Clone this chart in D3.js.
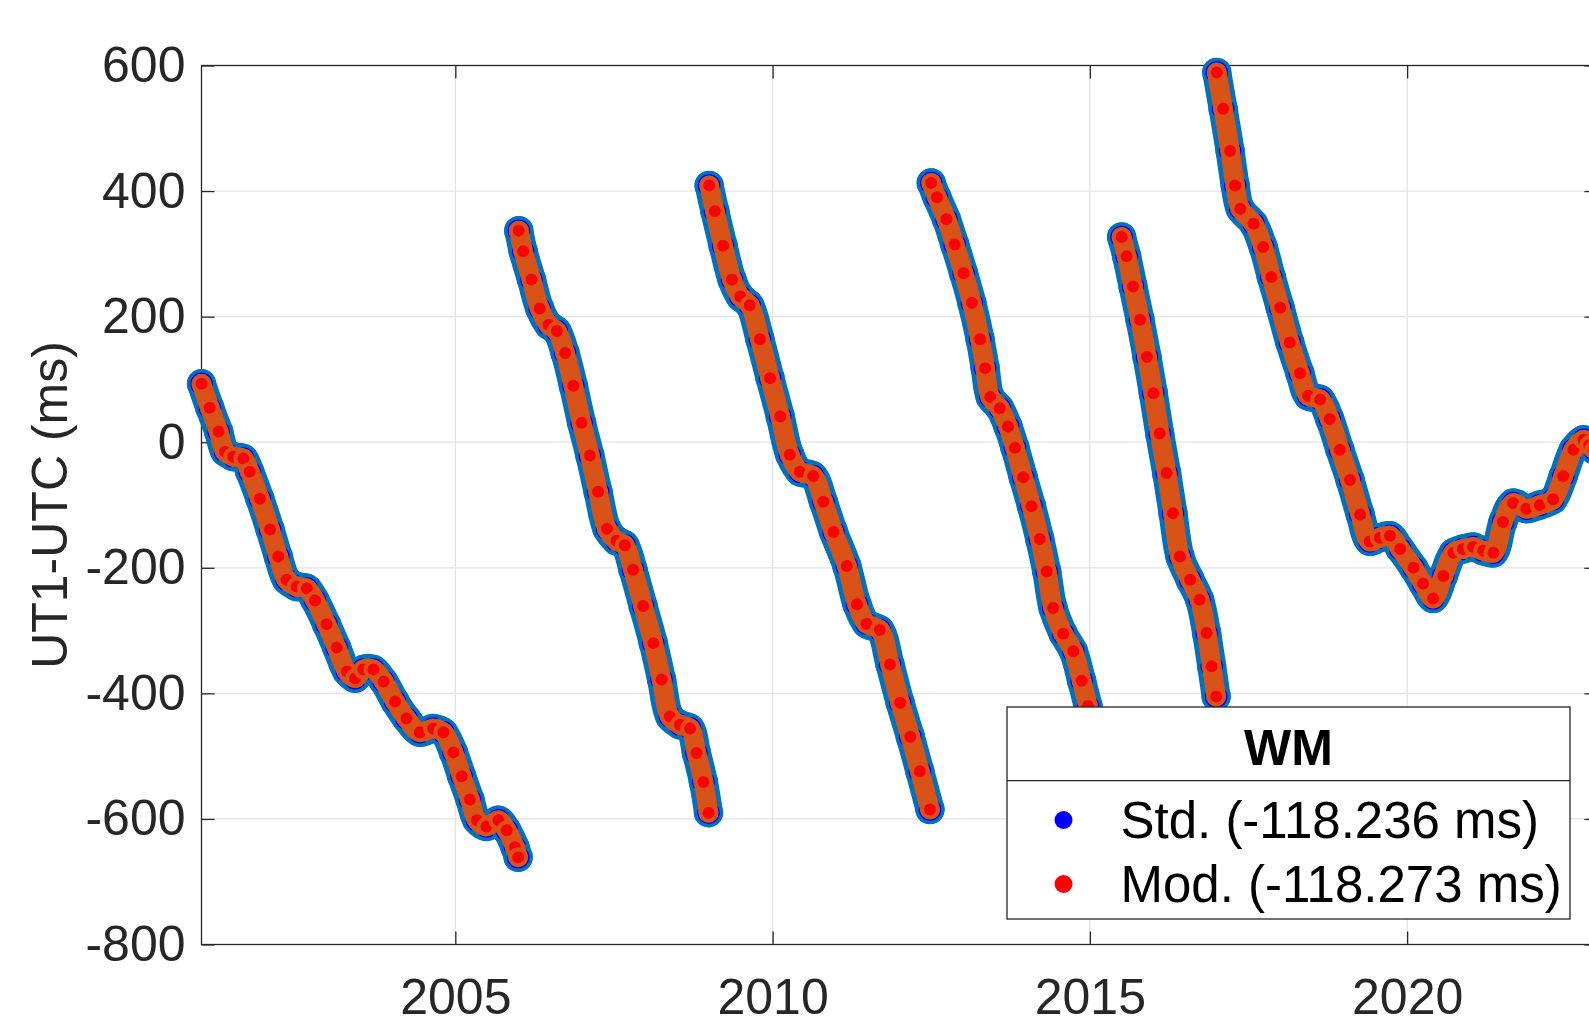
<!DOCTYPE html>
<html>
<head>
<meta charset="utf-8">
<script src="https://cdn.jsdelivr.net/npm/d3@7"></script>
<style>
  html, body { margin: 0; padding: 0; background: #fff; }
  svg { display: block; font-family: "Liberation Sans", Arial, Helvetica, sans-serif; }
</style>
</head>
<body>
<script>
// UT1-UTC, one pair of arrays per leap-second segment (years, ms)
const seg1Years = [2001.0, 2001.13, 2001.27, 2001.37, 2001.50, 2001.66, 2001.76, 2001.92, 2002.08, 2002.21, 2002.34, 2002.50, 2002.66, 2002.79, 2002.97, 2003.13, 2003.29, 2003.42, 2003.55, 2003.71, 2003.87, 2004.05, 2004.23, 2004.44, 2004.65, 2004.81, 2004.97, 2005.10, 2005.23, 2005.34, 2005.49, 2005.68, 2005.81, 2005.94, 2005.99]
const seg1Ms = [93, 55, 17, -15, -23, -26, -47, -90, -139, -182, -219, -230, -233, -252, -290, -327, -365, -376, -362, -362, -381, -413, -440, -462, -456, -462, -494, -532, -569, -602, -612, -602, -618, -645, -661]

const seg2Years = [2006.0, 2006.07, 2006.20, 2006.33, 2006.47, 2006.60, 2006.73, 2006.86, 2006.99, 2007.12, 2007.25, 2007.39, 2007.54, 2007.67, 2007.80, 2007.96, 2008.12, 2008.25, 2008.38, 2008.54, 2008.70, 2008.80, 2008.91, 2008.99]
const seg2Ms = [337, 304, 259, 213, 187, 177, 142, 90, 31, -21, -79, -138, -157, -164, -203, -261, -320, -378, -437, -450, -456, -495, -541, -590]

const seg3Years = [2009.0, 2009.09, 2009.22, 2009.36, 2009.49, 2009.64, 2009.80, 2009.96, 2010.12, 2010.27, 2010.43, 2010.64, 2010.80, 2010.96, 2011.17, 2011.33, 2011.48, 2011.69, 2011.85, 2012.01, 2012.17, 2012.32, 2012.48]
const seg3Ms = [409, 368, 313, 259, 232, 218, 164, 102, 41, -20, -47, -54, -95, -143, -197, -258, -289, -299, -354, -415, -469, -524, -585]

const seg4Years = [2012.5, 2012.59, 2012.74, 2012.87, 2013.01, 2013.14, 2013.27, 2013.35, 2013.43, 2013.58, 2013.71, 2013.82, 2013.95, 2014.08, 2014.21, 2014.32, 2014.42, 2014.58, 2014.74, 2014.87, 2014.97, 2015.15, 2015.33, 2015.49]
const seg4Ms = [413, 390, 355, 315, 269, 222, 164, 118, 72, 54, 25, -9, -56, -102, -154, -206, -264, -305, -333, -380, -420, -500, -600, -688]

const seg5Years = [2015.5, 2015.58, 2015.68, 2015.79, 2015.90, 2016.00, 2016.10, 2016.21, 2016.31, 2016.42, 2016.58, 2016.73, 2016.84, 2016.92, 2016.99]
const seg5Ms = [327, 296, 248, 195, 136, 78, 14, -49, -113, -182, -219, -251, -304, -357, -405]

const seg6Years = [2017.0, 2017.10, 2017.21, 2017.29, 2017.37, 2017.58, 2017.73, 2017.86, 2018.00, 2018.15, 2018.31, 2018.44, 2018.63, 2018.78, 2018.94, 2019.10, 2019.26, 2019.41, 2019.57, 2019.73, 2019.89, 2020.10, 2020.25, 2020.41, 2020.57, 2020.73, 2020.88, 2021.04, 2021.20, 2021.36, 2021.51, 2021.67, 2021.88, 2022.09, 2022.30, 2022.46, 2022.62, 2022.78, 2022.87, 2022.95]
const seg6Ms = [589, 531, 464, 409, 372, 348, 311, 263, 214, 159, 110, 74, 68, 37, -12, -60, -115, -158, -152, -149, -170, -200, -225, -249, -213, -176, -170, -167, -173, -176, -127, -97, -106, -100, -91, -54, -12, 4, -5, -12]

// Std. and Mod. differ by ~0.04 ms, they sit on top of each other at this scale
const stdSegments = [
  [seg1Years, seg1Ms], [seg2Years, seg2Ms], [seg3Years, seg3Ms],
  [seg4Years, seg4Ms], [seg5Years, seg5Ms], [seg6Years, seg6Ms]
]
const modSegments = stdSegments

const xTicks = [2005, 2010, 2015, 2020]
const yTicks = [-800, -600, -400, -200, 0, 200, 400, 600]
const legendTitle = 'WM'
const legendLabels = ['Std. (-118.236 ms)', 'Mod. (-118.273 ms)']

const fullWidth = 1589
const fullHeight = 1025
const plot = { left: 201.5, right: 1597.5, top: 65.5, bottom: 944.5 }
const axisColor = '#262626'
const gridColor = '#e3e3e3'
const stdEdge = '#0072bd'
const stdFace = '#0000ff'
const modEdge = '#d95319'
const modFace = '#ff0000'

const svg = d3.select('body')
  .append('svg')
  .attr('width', fullWidth)
  .attr('height', fullHeight)

const x = d3.scaleLinear()
  .domain([2001, 2023])
  .range([plot.left, plot.right])

const y = d3.scaleLinear()
  .domain([-800, 600])
  .range([plot.bottom, plot.top])

// grid
const grid = svg.append('g')
grid.selectAll('.vgrid')
  .data(xTicks)
  .enter().append('line')
  .attr('x1', d => x(d)).attr('x2', d => x(d))
  .attr('y1', plot.top).attr('y2', plot.bottom)
  .attr('stroke', gridColor).attr('stroke-width', 1.3)
grid.selectAll('.hgrid')
  .data(yTicks.slice(1, -1))
  .enter().append('line')
  .attr('x1', plot.left).attr('x2', plot.right)
  .attr('y1', d => y(d)).attr('y2', d => y(d))
  .attr('stroke', gridColor).attr('stroke-width', 1.3)

// axes, ticks point inwards like matlab
function styleAxis(g) {
  g.select('.domain').remove()
  g.selectAll('.tick line').attr('stroke', axisColor).attr('stroke-width', 1.3)
  g.selectAll('.tick text')
    .attr('fill', axisColor)
    .style('font-size', '50px')
    .style('font-family', '"Liberation Sans", Arial, sans-serif')
}

svg.append('g')
  .attr('transform', `translate(0,${plot.bottom})`)
  .call(d3.axisBottom(x).tickValues(xTicks).tickSize(-13).tickPadding(34).tickFormat(d3.format('d')))
  .call(styleAxis)

svg.append('g')
  .attr('transform', `translate(0,${plot.top})`)
  .call(d3.axisTop(x).tickValues(xTicks).tickSize(-13).tickFormat(''))
  .call(styleAxis)

svg.append('g')
  .attr('transform', `translate(${plot.left},0)`)
  .call(d3.axisLeft(y).tickValues(yTicks).tickSize(-13).tickPadding(16).tickFormat(d => String(d)))
  .call(styleAxis)

svg.append('g')
  .attr('transform', `translate(${plot.right},0)`)
  .call(d3.axisRight(y).tickValues(yTicks).tickSize(-13).tickFormat(''))
  .call(styleAxis)

svg.append('rect')
  .attr('x', plot.left).attr('y', plot.top)
  .attr('width', plot.right - plot.left).attr('height', plot.bottom - plot.top)
  .attr('fill', 'none')
  .attr('stroke', axisColor)
  .attr('stroke-width', 1.3)

svg.append('text')
  .attr('transform', `translate(67,${(plot.top + plot.bottom) / 2}) rotate(-90)`)
  .attr('text-anchor', 'middle')
  .attr('fill', axisColor)
  .style('font-size', '50px')
  .text('UT1-UTC (ms)')

// data: dense daily markers, drawn as a thick band plus the read points
const band = d3.line()
  .x(d => x(d[0]))
  .y(d => y(d[1]))
  .curve(d3.curveCatmullRom)

const toPoints = seg => seg[0].map((yr, i) => [yr, seg[1][i]])

function drawSeries(segments, edge, face, bandWidth, r, edgeWidth) {
  const g = svg.append('g')
  segments.forEach(seg => {
    const pts = toPoints(seg)
    g.append('path')
      .attr('d', band(pts))
      .attr('fill', 'none')
      .attr('stroke', edge)
      .attr('stroke-width', bandWidth)
      .attr('stroke-linecap', 'round')
      .attr('stroke-linejoin', 'round')
    g.selectAll(null)
      .data(pts)
      .enter().append('circle')
      .attr('cx', d => x(d[0]))
      .attr('cy', d => y(d[1]))
      .attr('r', r)
      .attr('fill', face)
      .attr('stroke', edge)
      .attr('stroke-width', edgeWidth)
  })
}

drawSeries(stdSegments, stdEdge, stdFace, 29, 13, 3.5)
drawSeries(modSegments, modEdge, modFace, 19.5, 8, 4)

// legend
const legend = svg.append('g')
const lx = 1007, ly = 707, lw = 563, lh = 212
legend.append('rect')
  .attr('x', lx).attr('y', ly).attr('width', lw).attr('height', lh)
  .attr('fill', '#fff')
  .attr('stroke', axisColor)
  .attr('stroke-width', 1.3)
legend.append('line')
  .attr('x1', lx).attr('x2', lx + lw)
  .attr('y1', 780.7).attr('y2', 780.7)
  .attr('stroke', axisColor)
  .attr('stroke-width', 1.3)
legend.append('text')
  .attr('x', lx + lw / 2).attr('y', 765)
  .attr('text-anchor', 'middle')
  .style('font-size', '50px')
  .style('font-weight', 'bold')
  .text(legendTitle)

const entryY = [820, 884]
const entryFace = [stdFace, modFace]
legendLabels.forEach((label, i) => {
  legend.append('circle')
    .attr('cx', 1063.5).attr('cy', entryY[i])
    .attr('r', 9)
    .attr('fill', entryFace[i])
  legend.append('text')
    .attr('x', 1120.5).attr('y', entryY[i] + 18)
    .style('font-size', '51px')
    .text(label)
})
</script>
</body>
</html>
